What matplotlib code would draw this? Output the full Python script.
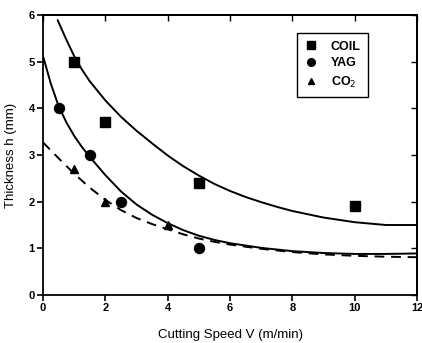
import matplotlib
matplotlib.use("Agg")
import matplotlib.pyplot as plt
from matplotlib.lines import Line2D

plt.rcParams['font.family'] = ['Liberation Sans', 'DejaVu Sans']

# measured data points
coil_v = [1, 2, 5, 10]
coil_h = [5.0, 3.7, 2.4, 1.9]
yag_v = [0.5, 1.5, 2.5, 5]
yag_h = [4.0, 3.0, 2.0, 1.0]
co2_v = [1, 2, 4]
co2_h = [2.7, 2.0, 1.5]

# fitted curves
coil_fit_v = [0.47, 0.75, 1.0, 1.25, 1.5, 2.0, 2.5, 3.0, 3.5, 4.0, 4.5, 5.0, 5.5, 6.0, 6.5, 7.0, 7.5, 8.0, 9.0, 10.0, 11.0, 12.0]
coil_fit_h = [5.89, 5.47, 5.12, 4.83, 4.58, 4.17, 3.82, 3.52, 3.25, 2.99, 2.76, 2.56, 2.38, 2.23, 2.10, 1.99, 1.89, 1.80, 1.66, 1.56, 1.50, 1.50]
yag_fit_v = [0.0, 0.25, 0.5, 0.75, 1.0, 1.25, 1.5, 2.0, 2.5, 3.0, 3.5, 4.0, 4.5, 5.0, 5.5, 6.0, 7.0, 8.0, 9.0, 10.0, 11.0, 12.0]
yag_fit_h = [5.12, 4.53, 4.05, 3.70, 3.41, 3.17, 2.96, 2.57, 2.22, 1.94, 1.72, 1.54, 1.39, 1.27, 1.18, 1.11, 1.01, 0.94, 0.90, 0.88, 0.88, 0.89]
co2_fit_v = [0.0, 0.5, 1.0, 1.5, 2.0, 2.5, 3.0, 3.5, 4.0, 4.5, 5.0, 5.5, 6.0, 7.0, 8.0, 9.0, 10.0, 11.0, 12.0]
co2_fit_h = [3.27, 2.93, 2.60, 2.30, 2.04, 1.82, 1.65, 1.52, 1.41, 1.30, 1.21, 1.14, 1.08, 0.99, 0.92, 0.87, 0.84, 0.82, 0.81]

x_ticks = [0, 2, 4, 6, 8, 10, 12]
y_ticks = [0, 1, 2, 3, 4, 5, 6]

fig = plt.figure(figsize=(4.22, 3.43), dpi=100)
ax = fig.add_axes([43/422, 1-295/343, (417-43)/422, (295-15)/343])

ax.plot(coil_fit_v, coil_fit_h, color='black', lw=1.4, solid_capstyle='round', solid_joinstyle='round')
ax.plot(yag_fit_v, yag_fit_h, color='black', lw=1.4, solid_capstyle='round', solid_joinstyle='round')
ax.plot(co2_fit_v, co2_fit_h, color='black', lw=1.4, linestyle=(0, (5, 3.5)))

ax.plot(coil_v, coil_h, 's', color='black', ms=6.5, ls='none')
ax.plot(yag_v, yag_h, 'o', color='black', ms=7.2, ls='none')
ax.plot(co2_v, co2_h, '^', color='black', ms=6.0, ls='none')

ax.set_xlim(0, 12)
ax.set_ylim(0, 6)
ax.set_xticks(x_ticks)
ax.set_yticks(y_ticks)
ax.set_xticklabels([str(t) for t in x_ticks], fontsize=8, fontweight='bold')
ax.set_yticklabels([str(t) for t in y_ticks], fontsize=8, fontweight='bold')
ax.tick_params(direction='out', length=4, width=1.2, pad=2)
for s in ax.spines.values():
    s.set_linewidth(1.3)

top = ax.secondary_xaxis('top')
top.set_xticks(x_ticks)
top.tick_params(direction='in', length=4, width=1.0, labeltop=False)
right = ax.secondary_yaxis('right')
right.set_yticks(y_ticks)
right.tick_params(direction='in', length=4, width=1.0, labelright=False)
for sec in (top, right):
    for s in sec.spines.values():
        s.set_linewidth(1.3)

ax.set_xlabel('Cutting Speed V (m/min)', fontsize=9.5, labelpad=11)
ax.set_ylabel('Thickness h (mm)', fontsize=9.5, labelpad=8)

handles = [
    Line2D([], [], marker='s', color='black', ls='none', ms=5.5),
    Line2D([], [], marker='o', color='black', ls='none', ms=5.5),
    Line2D([], [], marker='^', color='black', ls='none', ms=5.0),
]
leg = ax.legend(handles, ['COIL', 'YAG', 'CO$_2$'], loc='upper left',
                bbox_to_anchor=((297-43)/374, 1-(33-15)/280), borderaxespad=0,
                fancybox=False, framealpha=1,
                edgecolor='black', handlelength=1.0, handletextpad=1.1,
                labelspacing=0.4, borderpad=0.6, prop={'size': 9, 'weight': 'bold'})
leg.get_frame().set_linewidth(1.0)

fig.savefig('out.png', dpi=100)
